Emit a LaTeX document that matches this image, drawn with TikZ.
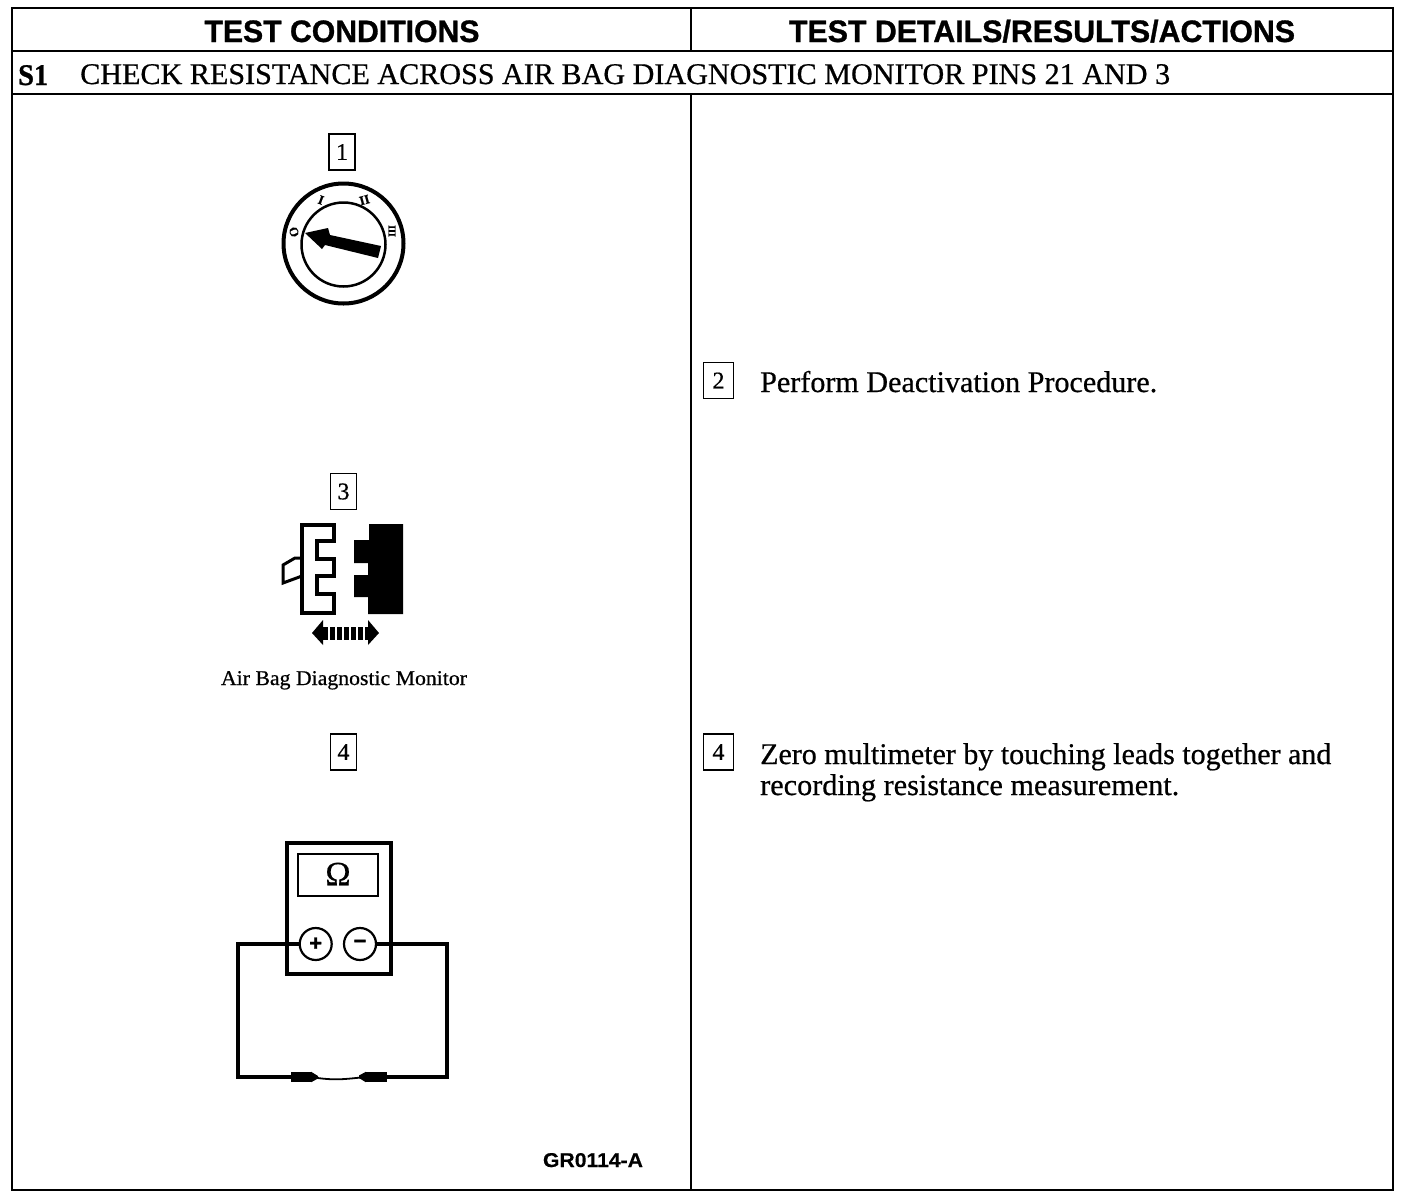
\documentclass[tikz,border=0pt]{standalone}
\usepackage{fontspec}
\setmainfont[FakeBold=0.6]{Liberation Serif}
\newfontfamily\heavyserif[FakeBold=1.0]{Liberation Serif Bold}
\newfontfamily\headfont[FakeBold=1.0]{Liberation Sans Bold}
\newfontfamily\codefont[FakeBold=0.3]{Liberation Sans Bold}
\newcommand{\fitw}[2]{\resizebox{#1pt}{\height}{#2}}
\newcommand{\numtxt}[1]{\raisebox{-2pt}{#1}}
\tikzset{
  rule/.style={line width=2pt,black},
  numbox/.style={draw=black,line width=1.8pt,minimum width=26pt,minimum height=36pt,inner sep=0pt,font=\fontsize{24}{24}\selectfont},
  numboxwide/.style={numbox,minimum width=30pt},
  headtxt/.style={anchor=base,inner sep=0pt,font=\fontsize{31}{31}\selectfont\headfont},
  bodytxt/.style={anchor=base west,inner sep=0pt,font=\fontsize{30}{30}\selectfont},
  ticktxt/.style={inner sep=0pt,font=\fontsize{13}{13}\selectfont\heavyserif},
  ring/.style={draw=black,circle,inner sep=0pt,fill=white},
  polar/.style={ring,line width=2.2pt,minimum size=32pt,font=\fontsize{22}{22}\selectfont\headfont},
  probe/.style={fill=black,draw=none,inner sep=0pt,minimum height=10pt},
  wire/.style={line width=3.2pt,black,line join=miter},
  thinwire/.style={line width=1.8pt,black}
}
\begin{document}
\begin{tikzpicture}[x=1pt,y=-1pt]
\useasboundingbox (0,0) rectangle (1408,1200);
\fill[white] (0,0) rectangle (1408,1200);
% table
\coordinate (tl) at (12,8); \coordinate (br) at (1393,1190);
\draw[rule] (tl) rectangle (br);
\draw[rule] (12,51) -- (1393,51);
\draw[rule] (12,94) -- (1393,94);
\draw[rule] (691,8) -- (691,51);
\draw[rule] (691,94) -- (691,1190);
% headers
\node[headtxt] (h1) at (342,42) {\fitw{275}{TEST CONDITIONS}};
\node[headtxt] (h2) at (1042,42) {\fitw{506}{TEST DETAILS/RESULTS/ACTIONS}};
\node[bodytxt,font=\fontsize{30}{30}\selectfont\heavyserif] (s1) at (18,85) {\fitw{30}{S1}};
\node[bodytxt] (title) at (80,84) {\fitw{1090}{CHECK RESISTANCE ACROSS AIR BAG DIAGNOSTIC MONITOR PINS 21 AND 3}};
% number boxes
\node[numbox] (b1) at (342,152) {\numtxt{1}};
\node[numbox] (b3) at (343.5,491.5) {\numtxt{3}};
\node[numbox] (b4) at (343.5,752) {\numtxt{4}};
\node[numboxwide] (b2) at (718.5,380.5) {\numtxt{2}};
\node[numboxwide] (b4r) at (718.5,752) {\numtxt{4}};
% right text
\node[bodytxt] (t2) at (760,392) {\fitw{397}{Perform Deactivation Procedure.}};
\node[bodytxt] (t4a) at (760,764) {\fitw{571}{Zero multimeter by touching leads together and}};
\node[bodytxt] (t4b) at (760,795) {\fitw{419}{recording resistance measurement.}};
% key switch
\node[ring,line width=4pt,minimum size=120pt] (outer) at (343.5,243.5) {};
\node[ring,line width=2.5pt,minimum size=84pt] (inner) at (343.5,244.5) {};
\fill[black] (305,233) -- (328,228) -- (330,235) -- (381,246) -- (378,258) -- (325,245) -- (322,249) -- cycle;
\node[ticktxt,rotate=-75] (p0) at (294,232) {O};
\node[ticktxt,rotate=-20] (p1) at (321,200) {I};
\node[ticktxt,rotate=15] (p2) at (364.5,200) {II};
\node[ticktxt,rotate=90,font=\fontsize{10}{10}\selectfont\heavyserif] (p3) at (392,231) {III};
% connector
\draw[line width=3pt,black,line join=miter] (302,558) -- (295,558) -- (283,565) -- (283,583) -- (302,576);
\draw[line width=3.4pt,black,fill=white,line join=miter] (302,525) -- (334,525) -- (334,541) -- (317,541) -- (317,559) -- (334,559) -- (334,576) -- (317,576) -- (317,594) -- (334,594) -- (334,613) -- (302,613) -- cycle;
\fill[black] (369,524) -- (403,524) -- (403,614) -- (368,614) -- (368,597) -- (354,597) -- (354,575) -- (368,575) -- (368,563) -- (354,563) -- (354,540) -- (369,540) -- cycle;
% double arrow
\fill[black] (312,633) -- (323,620) -- (323,645) -- cycle;
\fill[black] (379,633) -- (368,620) -- (368,645) -- cycle;
\draw[black,line width=13pt,dash pattern=on 5pt off 2pt] (323,633) -- (368,633);
\node[anchor=base,inner sep=0pt,font=\fontsize{21}{21}\selectfont] (lab) at (344,685) {\fitw{246}{Air Bag Diagnostic Monitor}};
% multimeter
\node[draw=black,line width=3.5pt,fill=white,minimum width=104pt,minimum height=131pt,inner sep=0pt] (meter) at (339,908.5) {};
\node[draw=black,line width=2.5pt,minimum width=80pt,minimum height=42pt,inner sep=0pt,font=\fontsize{34}{34}\selectfont] (disp) at (338,875) {\raisebox{2pt}{Ω}};
\node[polar] (plus) at (315.7,944) {\raisebox{-1pt}{+}};
\node[polar] (minus) at (360,944) {\raisebox{-3pt}{−}};
\coordinate (lc) at (238,1077);
\coordinate (rc) at (447,1077);
\node[probe,minimum width=20pt] (pl) at (301,1077) {};
\node[probe,minimum width=21pt] (pr) at (376.5,1077) {};
\fill[black] (pl.north east) -- (318,1076) -- (318,1078.5) -- (pl.south east) -- cycle;
\fill[black] (pr.north west) -- (359,1075.5) -- (359,1078) -- (pr.south west) -- cycle;
\draw[wire] (plus.west) -- (238,944) -- (lc) -- (pl.west);
\draw[wire] (minus.east) -- (447,944) -- (rc) -- (pr.east);
\draw[thinwire] (pl.east) .. controls (335,1081) and (345,1079) .. (pr.west);
\node[anchor=base,inner sep=0pt,font=\fontsize{20}{20}\selectfont\codefont] (code) at (593,1167) {\fitw{100}{GR0114-A}};
\end{tikzpicture}
\end{document}
